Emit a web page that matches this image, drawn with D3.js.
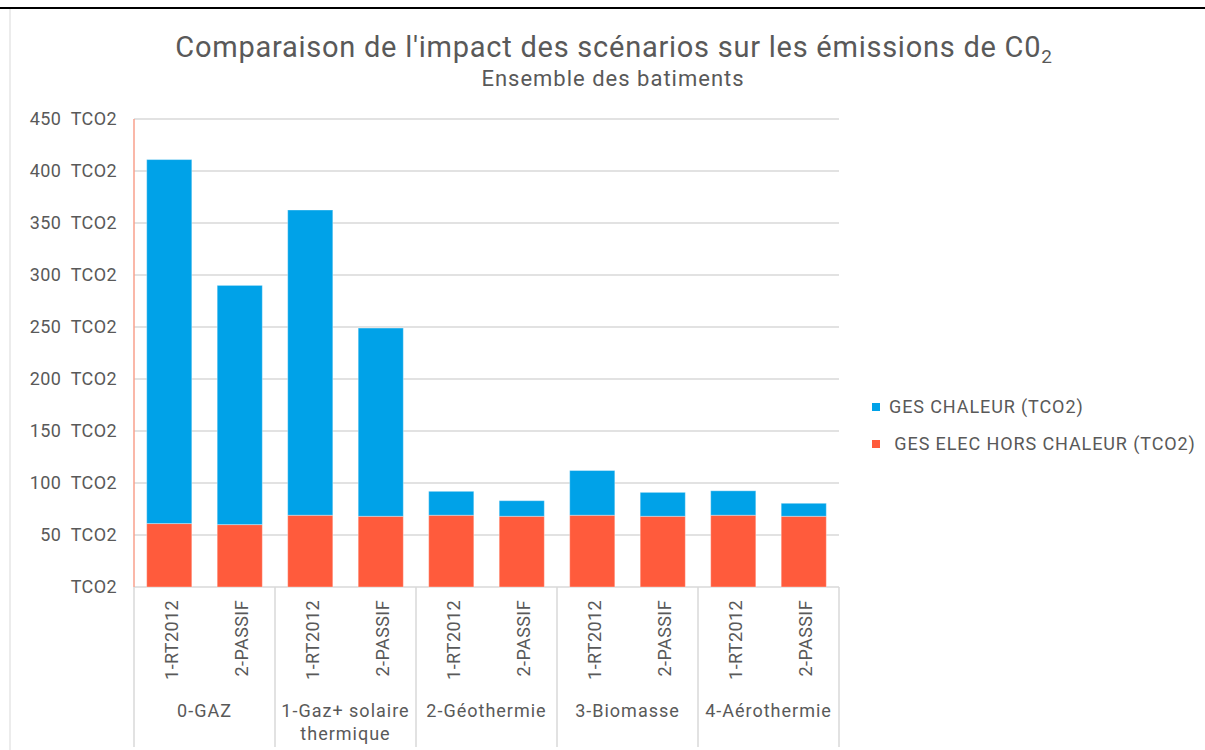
<!DOCTYPE html>
<html>
<head>
<meta charset="utf-8">
<script src="https://cdn.jsdelivr.net/npm/d3@7"></script>
<style>
  body { margin: 0; background: #fff; }
  svg text { font-family: Roboto, "Noto Sans", sans-serif; fill: #595959; }
</style>
</head>
<body>
<svg id="chart" width="1205" height="750"></svg>
<script>
'use strict';

const groups = ["0-GAZ", "1-Gaz+ solaire thermique", "2-Géothermie", "3-Biomasse", "4-Aérothermie"];
const scenarios = ["1-RT2012", "2-PASSIF"];
// one value per bar, in group order (RT2012, PASSIF, RT2012, PASSIF...)
const gesElec    = [61, 60, 69, 68, 69, 68, 69, 68, 69, 68];
const gesChaleur = [350, 230, 293.5, 181, 23, 15, 43, 23, 23.5, 12.5];
const seriesNames = ["GES CHALEUR (TCO2)", " GES ELEC HORS CHALEUR (TCO2)"];
const yTicks = [0, 50, 100, 150, 200, 250, 300, 350, 400, 450];

const PLOT_LEFT = 134, PLOT_RIGHT = 839, PLOT_TOP = 119, PLOT_BOTTOM = 587;
const BLUE = "#00a2e8", RED = "#ff5b3c", GRID = "#d9d9d9";

const svg = d3.select("#chart");

// frame
svg.append("line").attr("x1", 0).attr("x2", 1205).attr("y1", 8).attr("y2", 8)
  .attr("stroke", "#000").attr("stroke-width", 2);
svg.append("line").attr("x1", 10).attr("x2", 10).attr("y1", 9).attr("y2", 750)
  .attr("stroke", GRID).attr("stroke-width", 1);

// titles
const title = svg.append("text").attr("x", 614).attr("y", 57)
  .attr("text-anchor", "middle").style("font-size", "29px").style("letter-spacing", "0.75px");
title.append("tspan").text("Comparaison de l'impact des scénarios sur les émissions de C0");
title.append("tspan").text("2").attr("dy", 6).style("font-size", "19px");
svg.append("text").attr("x", 613).attr("y", 86).attr("text-anchor", "middle")
  .style("font-size", "22px").style("letter-spacing", "1px").text("Ensemble des batiments");

// data rows
const rows = gesElec.map((e, i) => ({
  key: i,
  group: groups[Math.floor(i / scenarios.length)],
  scenario: scenarios[i % scenarios.length],
  elec: e,
  chaleur: gesChaleur[i]
}));

const x = d3.scaleBand().domain(rows.map(d => d.key))
  .range([PLOT_LEFT, PLOT_RIGHT]).paddingInner(0.36).paddingOuter(0.18);
const y = d3.scaleLinear().domain([0, 450]).range([PLOT_BOTTOM, PLOT_TOP]);

// gridlines
svg.append("g").selectAll("line").data(yTicks).join("line")
  .attr("x1", PLOT_LEFT).attr("x2", PLOT_RIGHT)
  .attr("y1", d => y(d)).attr("y2", d => y(d))
  .attr("stroke", GRID).attr("stroke-width", 1.5);

// y axis
const yAxis = svg.append("g").attr("transform", `translate(${PLOT_LEFT - 17},0)`)
  .call(d3.axisLeft(y).tickValues(yTicks).tickSize(0)
    .tickFormat(d => d === 0 ? "TCO2" : d + "  TCO2"));
yAxis.select(".domain").remove();
yAxis.selectAll("text").attr("x", 0).style("font-size", "18px").style("letter-spacing", "0.4px")
  .style("white-space", "pre").attr("font-family", null);

// stacked bars
const stack = d3.stack().keys(["elec", "chaleur"]);
const layers = stack(rows);
const colors = { elec: RED, chaleur: BLUE };
svg.append("g").selectAll("g").data(layers).join("g")
  .attr("fill", d => colors[d.key])
  .selectAll("rect").data(d => d).join("rect")
  .attr("x", d => x(d.data.key))
  .attr("width", x.bandwidth())
  .attr("y", d => y(d[1]))
  .attr("height", d => y(d[0]) - y(d[1]))
  .attr("stroke", "#fff").attr("stroke-opacity", 0.35).attr("stroke-width", 1);

// orange vertical axis line
svg.append("line").attr("x1", PLOT_LEFT).attr("x2", PLOT_LEFT)
  .attr("y1", PLOT_TOP).attr("y2", PLOT_BOTTOM)
  .attr("stroke", "#f9a08c").attr("stroke-width", 1.5);

// category separators
const groupW = (PLOT_RIGHT - PLOT_LEFT) / groups.length;
const gx = d3.scaleBand().domain(groups).range([PLOT_LEFT, PLOT_RIGHT]);
svg.append("g").selectAll("line").data(d3.range(groups.length + 1)).join("line")
  .attr("x1", i => PLOT_LEFT + i * gx.step()).attr("x2", i => PLOT_LEFT + i * gx.step())
  .attr("y1", PLOT_BOTTOM).attr("y2", 747)
  .attr("stroke", GRID).attr("stroke-width", 1.5);

// scenario labels (rotated)
svg.append("g").selectAll("text").data(rows).join("text")
  .attr("transform", d => `translate(${x(d.key) + x.bandwidth() / 2 + 2},600) rotate(-90)`)
  .attr("text-anchor", "end").attr("dy", "0.35em")
  .style("font-size", "18px").style("letter-spacing", "0.4px").text(d => d.scenario);

// group labels, wrapped to the group width
const gl = svg.append("g").selectAll("text").data(groups).join("text")
  .attr("x", d => gx(d) + gx.bandwidth() / 2).attr("y", 717)
  .attr("text-anchor", "middle").style("font-size", "18px").style("letter-spacing", "1px");
gl.each(function (d) {
  const t = d3.select(this);
  const words = d.split(" ");
  let line = [], tspan = t.append("tspan").attr("x", t.attr("x"));
  words.forEach(w => {
    line.push(w);
    tspan.text(line.join(" "));
    if (tspan.node().getComputedTextLength() > groupW - 4 && line.length > 1) {
      line.pop();
      tspan.text(line.join(" "));
      line = [w];
      tspan = t.append("tspan").attr("x", t.attr("x")).attr("dy", 23).text(w);
    }
  });
});

// legend
const legend = svg.append("g").selectAll("g").data(seriesNames).join("g")
  .attr("transform", (d, i) => `translate(872,${407 + i * 37})`);
legend.append("rect").attr("x", 0).attr("y", -4).attr("width", 8).attr("height", 8)
  .attr("fill", (d, i) => i === 0 ? BLUE : RED);
legend.append("text").attr("x", 17).attr("dy", "0.35em")
  .style("font-size", "18px").style("letter-spacing", "0.9px").style("white-space", "pre").text(d => d);
</script>
</body>
</html>
